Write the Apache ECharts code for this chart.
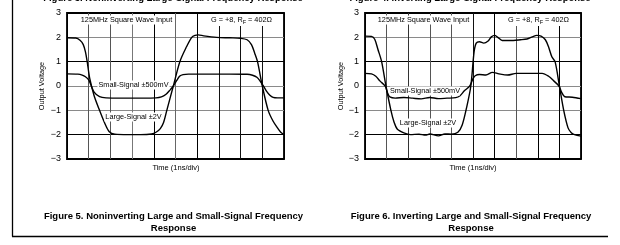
<!DOCTYPE html>
<html><head><meta charset="utf-8">
<script src="https://cdn.jsdelivr.net/npm/echarts@6/dist/echarts.min.js"></script>
<style>html,body{margin:0;padding:0;background:#fff}#c{width:620px;height:245px}</style>
</head><body><div id="c"></div>
<script>
// ---- data (time in divisions of 1 ns, voltage in V) ----
var yTicks = [-3, -2, -1, 0, 1, 2, 3];
var yTickLabels = ['\u22123', '\u22122', '\u22121', '0', '1', '2', '3'];

var nonInvLargeT = [0, 0.4, 0.6, 0.75, 0.85, 0.93, 1.05, 1.25, 1.5, 1.75, 1.95, 2.2, 2.8, 3.4, 3.9, 4.1, 4.3, 4.45, 4.6, 4.9, 5.2, 5.5, 5.75, 5.9, 6.05, 6.3, 6.9, 7.5, 8.0, 8.3, 8.5, 8.65, 8.78, 9.0, 9.27, 9.5, 9.7, 9.85, 10];
var nonInvLargeV = [1.98, 1.97, 1.88, 1.7, 1.4, 1.0, 0.3, -0.4, -1.0, -1.55, -1.88, -1.98, -2.0, -2.0, -1.97, -1.9, -1.75, -1.5, -1.0, 0.0, 1.0, 1.6, 2.0, 2.08, 2.1, 2.06, 2.0, 1.98, 1.96, 1.9, 1.7, 1.35, 1.0, 0.0, -1.0, -1.45, -1.72, -1.9, -2.0];

var nonInvSmallT = [0, 0.5, 0.7, 0.85, 1.0, 1.1, 1.25, 1.5, 1.8, 2.5, 3.5, 4.1, 4.35, 4.55, 4.75, 4.9, 5.05, 5.2, 5.35, 5.6, 6.5, 7.5, 8.3, 8.55, 8.75, 8.9, 9.05, 9.2, 9.35, 9.5, 9.7, 10];
var nonInvSmallV = [0.5, 0.49, 0.45, 0.38, 0.25, 0.05, -0.25, -0.44, -0.49, -0.5, -0.5, -0.49, -0.45, -0.35, -0.16, 0.0, 0.22, 0.41, 0.47, 0.49, 0.49, 0.49, 0.48, 0.44, 0.36, 0.2, 0.0, -0.22, -0.38, -0.47, -0.49, -0.49];

var invLargeT = [0, 0.3, 0.45, 0.6, 0.77, 0.97, 1.2, 1.35, 1.5, 1.8, 2.1, 2.5, 2.8, 3.0, 3.4, 3.7, 4.0, 4.3, 4.5, 4.7, 4.9, 5.05, 5.15, 5.3, 5.5, 5.7, 5.85, 6.0, 6.15, 6.35, 6.7, 7.2, 7.5, 7.75, 7.95, 8.15, 8.35, 8.5, 8.65, 8.8, 9.0, 9.2, 9.4, 9.55, 9.7, 10];
var invLargeV = [2.05, 2.04, 1.92, 1.5, 1.0, 0.0, -1.0, -1.5, -1.78, -1.93, -2.0, -1.98, -2.02, -1.97, -2.05, -1.97, -1.98, -1.9, -1.6, -0.9, 0.0, 1.4, 1.76, 1.82, 1.76, 1.85, 2.02, 2.08, 2.0, 1.87, 1.87, 1.9, 1.93, 2.02, 2.08, 2.05, 1.9, 1.6, 1.2, 1.0, 0.0, -1.0, -1.72, -1.92, -2.0, -2.06];

var invSmallT = [0, 0.3, 0.5, 0.7, 0.93, 1.05, 1.15, 1.4, 1.8, 2.2, 2.6, 3.0, 3.4, 3.8, 4.2, 4.4, 4.6, 4.85, 5.0, 5.1, 5.3, 5.6, 5.9, 6.2, 6.6, 7.0, 8.2, 8.5, 8.75, 8.98, 9.1, 9.25, 9.6, 10];
var invSmallV = [0.52, 0.5, 0.4, 0.2, 0.0, -0.3, -0.45, -0.5, -0.47, -0.5, -0.53, -0.47, -0.52, -0.5, -0.48, -0.4, -0.2, 0.0, 0.3, 0.42, 0.47, 0.45, 0.56, 0.5, 0.45, 0.52, 0.52, 0.4, 0.2, 0.0, -0.25, -0.44, -0.46, -0.52];

function pairs(t, v) { return t.map(function (x, i) { return [x, v[i]]; }); }

var FONT = "'Liberation Sans', Arial, sans-serif";
var hColors = ['#000', '#000', '#8a8a8a', '#8a8a8a', '#000', '#8a8a8a', '#000'];
var vColorsL = ['#000', '#555', '#555', '#777', '#000', '#666', '#000', '#111', '#111', '#111', '#000'];
var vColorsR = ['#000', '#555', '#333', '#555', '#555', '#111', '#000', '#555', '#000', '#000', '#000'];

function xAx(idx, cols) {
  return { gridIndex: idx, type: 'value', min: 0, max: 10, interval: 1,
    axisLine: { show: false }, axisTick: { show: false }, axisLabel: { show: false },
    splitLine: { show: true, lineStyle: { color: cols, width: 1 } } };
}
function yAx(idx) {
  return { gridIndex: idx, type: 'value', min: -3, max: 3, interval: 1,
    axisLine: { show: false }, axisTick: { show: false },
    axisLabel: { show: true, margin: 6, color: '#000', fontSize: 9, fontFamily: FONT,
      formatter: function (v) { return yTickLabels[yTicks.indexOf(v)]; } },
    splitLine: { show: true, lineStyle: { color: hColors, width: 1 } } };
}
function ser(idx, data) {
  return { type: 'line', xAxisIndex: idx, yAxisIndex: idx, data: data, smooth: 0.3,
    showSymbol: false, symbol: 'none', lineStyle: { color: '#000', width: 1.4 }, z: 3 };
}
function txt(x, y, s, o) {
  o = o || {};
  return { type: 'text', x: x, y: y, z: 100, rotation: o.rot || 0,
    style: { text: s, fill: '#000', font: (o.bold ? 'bold ' : '') + (o.size || 7.3) + 'px ' + FONT,
      textAlign: o.align || 'center', textVerticalAlign: 'middle',
      backgroundColor: o.bg || null, padding: o.pad || 0, rich: o.rich } };
}
var subRich = { s: { fontSize: 5.5, verticalAlign: 'bottom', padding: [4, 0, 0, 0], fontFamily: FONT } };

var chart = echarts.init(document.getElementById('c'), null, { renderer: 'canvas' });
chart.setOption({
  animation: false,
  backgroundColor: '#fff',
  grid: [
    { left: 67, top: 13, width: 217, height: 146, show: true, borderColor: '#000', borderWidth: 1.8, backgroundColor: 'transparent', containLabel: false },
    { left: 365, top: 13, width: 216, height: 146, show: true, borderColor: '#000', borderWidth: 1.8, backgroundColor: 'transparent', containLabel: false }
  ],
  xAxis: [xAx(0, vColorsL), xAx(1, vColorsR)],
  yAxis: [yAx(0), yAx(1)],
  series: [
    ser(0, pairs(nonInvLargeT, nonInvLargeV)),
    ser(0, pairs(nonInvSmallT, nonInvSmallV)),
    ser(1, pairs(invLargeT, invLargeV)),
    ser(1, pairs(invSmallT, invSmallV))
  ],
  graphic: [
    // panel frame
    { type: 'line', z: 100, shape: { x1: 12.5, y1: 0, x2: 12.5, y2: 236.5 }, style: { stroke: '#000', lineWidth: 1.3 } },
    { type: 'line', z: 100, shape: { x1: 12, y1: 236.5, x2: 608, y2: 236.5 }, style: { stroke: '#000', lineWidth: 1.3 } },
    // cut-off titles at top
    txt(173, -2, 'Figure 3. Noninverting Large-Signal Frequency Response', { bold: true, size: 9.5 }),
    txt(470, -2, 'Figure 4. Inverting Large-Signal Frequency Response', { bold: true, size: 9.5 }),
    // left chart annotations
    txt(126.5, 20, '125MHz Square Wave Input', { bg: '#fff', pad: [1, 1] }),
    txt(273, 20, 'G = +8, R{s|F} = 402\u03A9', { align: 'right', bg: '#fff', pad: [1, 1], rich: subRich }),
    txt(133.5, 85, 'Small-Signal \u00B1500mV', { bg: '#fff', pad: [1, 1] }),
    txt(133.5, 117, 'Large-Signal \u00B12V', { bg: '#fff', pad: [1, 1] }),
    txt(42, 86, 'Output Voltage', { rot: Math.PI / 2 }),
    txt(176, 168, 'Time (1ns/div)', { size: 7.5 }),
    txt(173.5, 216, 'Figure 5. Noninverting Large and Small-Signal Frequency', { bold: true, size: 9.5 }),
    txt(173.5, 228, 'Response', { bold: true, size: 9.5 }),
    // right chart annotations
    txt(423.5, 20, '125MHz Square Wave Input', { bg: '#fff', pad: [1, 1] }),
    txt(570, 20, 'G = +8, R{s|F} = 402\u03A9', { align: 'right', bg: '#fff', pad: [1, 1], rich: subRich }),
    txt(425, 91, 'Small-Signal \u00B1500mV', { bg: '#fff', pad: [1, 0] }),
    txt(428, 123, 'Large-Signal \u00B12V', { bg: '#fff', pad: [1, 0] }),
    txt(341, 86, 'Output Voltage', { rot: Math.PI / 2 }),
    txt(473, 168, 'Time (1ns/div)', { size: 7.5 }),
    txt(471, 216, 'Figure 6. Inverting Large and Small-Signal Frequency', { bold: true, size: 9.5 }),
    txt(471, 228, 'Response', { bold: true, size: 9.5 })
  ]
});
</script></body></html>
